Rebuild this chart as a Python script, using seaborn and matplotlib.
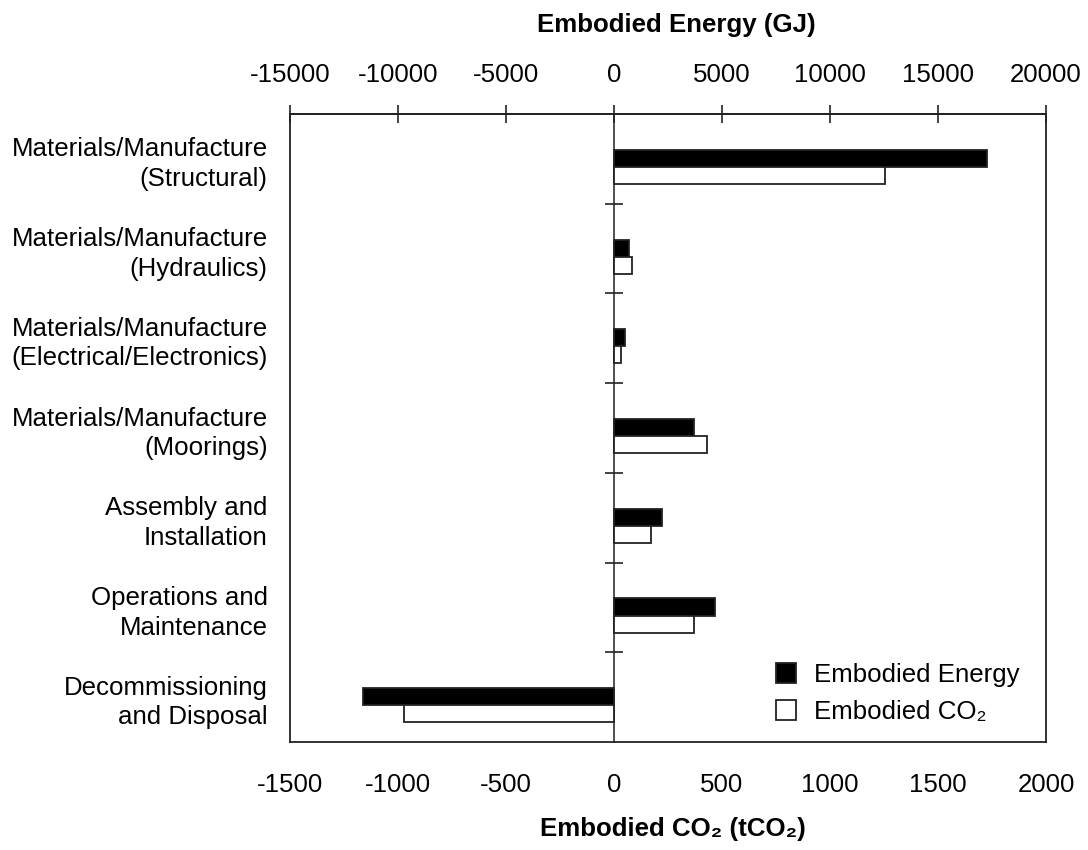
import matplotlib
matplotlib.use("Agg")
import matplotlib.pyplot as plt
import numpy as np
import pandas as pd
import seaborn as sns

# ---- data ----
stages = [
    "Materials/Manufacture\n(Structural)",
    "Materials/Manufacture\n(Hydraulics)",
    "Materials/Manufacture\n(Electrical/Electronics)",
    "Materials/Manufacture\n(Moorings)",
    "Assembly and\nInstallation",
    "Operations and\nMaintenance",
    "Decommissioning\nand Disposal",
]
energy_gj = [17290, 710, 510, 3690, 2200, 4680, -11620]
co2_t = [1253, 82, 32, 429, 169, 370, -972]
series_names = ["Embodied Energy", "Embodied CO\u2082"]
co2_ticks = [-1500, -1000, -500, 0, 500, 1000, 1500, 2000]
energy_ticks = [-15000, -10000, -5000, 0, 5000, 10000, 15000, 20000]
gj_per_t = 10  # ratio between top (GJ) and bottom (tCO2) scales

# ---- styling ----
sns.set_style("white")
plt.rcParams["font.family"] = ["Liberation Sans", "DejaVu Sans"]
plt.rcParams["text.color"] = "black"
plt.rcParams["axes.labelcolor"] = "black"
plt.rcParams["xtick.color"] = "black"
plt.rcParams["ytick.color"] = "black"
FS = 18.6
SPINE = "#222222"

df = pd.DataFrame({
    "stage": stages * 2,
    "series": [series_names[0]] * len(stages) + [series_names[1]] * len(stages),
    "value": [e / gj_per_t for e in energy_gj] + list(co2_t),
})

fig = plt.figure(figsize=(10.88, 8.5), dpi=100)
ax = fig.add_axes([290 / 1088, 1 - 742 / 850, 756 / 1088, 628 / 850])

sns.barplot(data=df, y="stage", x="value", hue="series", orient="h",
            palette=["black", "white"], saturation=1, width=0.38,
            edgecolor=SPINE, linewidth=1.3, dodge=True, ax=ax)

off = 0.09
n = len(stages)
ax.set_xlim(co2_ticks[0], co2_ticks[-1])
ax.set_ylim(n - 0.5 - off, -0.5 - off)
ax.set_xticks(co2_ticks)
ax.set_xticklabels([str(t) for t in co2_ticks], fontsize=FS)
ax.set_yticks(np.arange(n) - off)
ax.set_yticklabels(stages, fontsize=FS, linespacing=1.3)
ax.tick_params(axis="y", length=0, pad=16)
ax.tick_params(axis="x", direction="out", length=6.5, width=1.2, color=SPINE, pad=16)
ax.set_xlabel("Embodied CO\u2082 (tCO\u2082)", fontsize=FS, fontweight="bold",
              labelpad=14, x=0.507)
ax.set_ylabel("")
for s in ax.spines.values():
    s.set_visible(True)
    s.set_color(SPINE)
    s.set_linewidth(1.3)

# top energy axis
secx = ax.secondary_xaxis("top", functions=(lambda x: x * gj_per_t, lambda x: x / gj_per_t))
secx.set_xticks(energy_ticks)
secx.set_xticklabels([str(t) for t in energy_ticks], fontsize=FS)
secx.tick_params(direction="inout", length=13, width=1.2, color=SPINE, pad=13)
secx.set_xlabel("Embodied Energy (GJ)", fontsize=FS, fontweight="bold",
                labelpad=22, x=0.511)
secx.spines["top"].set_color(SPINE)
secx.spines["top"].set_linewidth(1.3)

# zero line with category boundary ticks
zero_frac = (0 - co2_ticks[0]) / (co2_ticks[-1] - co2_ticks[0])
secy = ax.secondary_yaxis(zero_frac)
secy.set_yticks(np.arange(n - 1) + 0.5 - off)
secy.tick_params(direction="inout", length=13, width=1.2, color=SPINE,
                 labelleft=False, labelright=False)
for s in secy.spines.values():
    s.set_color(SPINE)
    s.set_linewidth(1.1)

handles, labels = ax.get_legend_handles_labels()
ax.legend(handles, labels, loc="lower right", frameon=False, fontsize=FS,
          handlelength=0.8, handleheight=0.8, handletextpad=0.7,
          labelspacing=0.5, borderpad=0, borderaxespad=0,
          bbox_to_anchor=((1020 - 290) / 756, (742 - 724) / 628))

fig.savefig("out.png", dpi=100)
